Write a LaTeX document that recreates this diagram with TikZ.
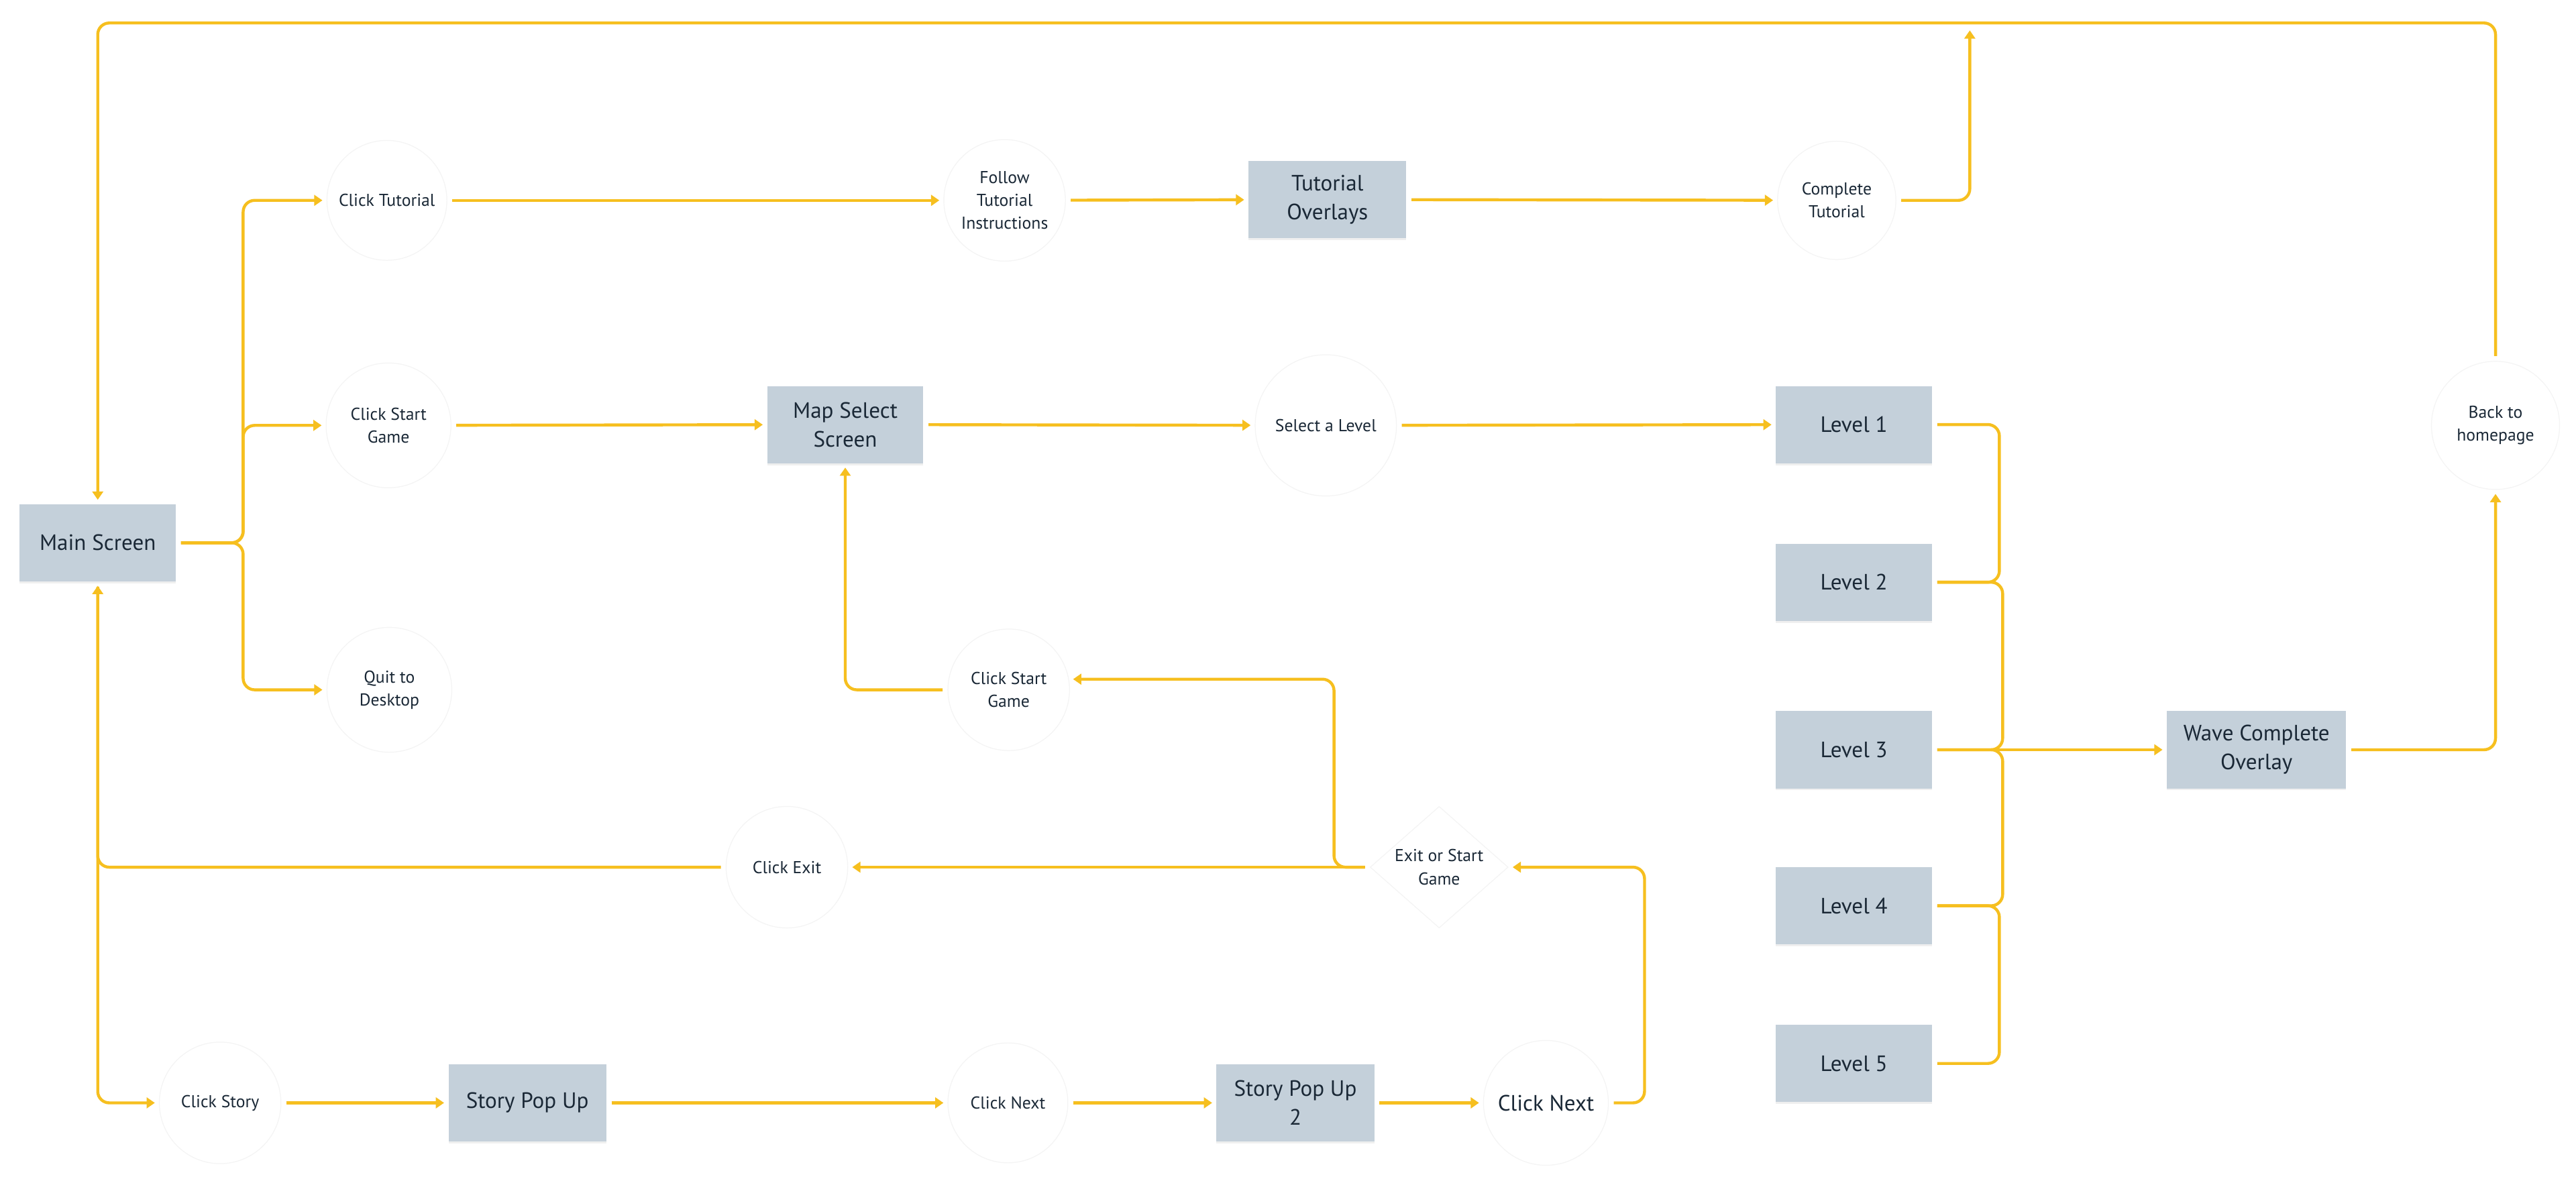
\documentclass[tikz,border=0pt]{standalone}
\usepackage{fontspec}
\setmainfont{PT Sans}
\usetikzlibrary{arrows.meta,shapes.geometric,shadows}
\definecolor{yel}{HTML}{F6BF1F}
\definecolor{boxc}{HTML}{C4D0DA}
\definecolor{txt}{HTML}{1A2836}
\definecolor{ring}{HTML}{F4F4F4}
\begin{document}
\begin{tikzpicture}[x=1pt,y=-1pt,
  box/.style={rectangle, fill=boxc, minimum width=95pt, minimum height=47pt, inner sep=2pt,
    align=center, text=txt, font=\fontsize{13.5}{17.5}\selectfont,
    drop shadow={shadow xshift=0pt, shadow yshift=-1.2pt, opacity=0.12}},
  act/.style={circle, fill=white, draw=ring, line width=0.5pt, minimum size=#1, inner sep=0pt,
    align=center, text=txt, font=\fontsize{10.5}{14}\selectfont},
  act/.default=74pt,
  decide/.style={diamond, fill=white, draw=ring, line width=0.5pt, minimum width=84pt,
    minimum height=74pt, inner sep=-8pt, align=center, text=txt, font=\fontsize{10.5}{14}\selectfont},
  conn/.style={draw=yel, line width=1.8pt, rounded corners=7pt, shorten <=3pt, shorten >=3pt},
  arr/.style={conn, -{Triangle[length=5pt,width=6.5pt]}, shorten >=2.5pt}
]
\fill[white] (0,0) rectangle (1568,718.7);
\useasboundingbox (0,0) rectangle (1568,718.7);

% boxes
\node[box] (main) at (59.5,330.5) {Main Screen};
\node[box, minimum width=96pt] (tov) at (808,121.5) {Tutorial\\Overlays};
\node[box] (map) at (514.5,258.5) {Map Select\\Screen};
\node[box] (L1) at (1128.5,258.5) {Level 1};
\node[box] (L2) at (1128.5,354.5) {Level 2};
\node[box] (L3) at (1128.5,456.5) {Level 3};
\node[box] (L4) at (1128.5,551.5) {Level 4};
\node[box] (L5) at (1128.5,647.5) {Level 5};
\node[box, minimum width=109pt] (wave) at (1373.5,456.5) {Wave Complete\\Overlay};
\node[box, minimum width=96pt] (sp1) at (321,671.5) {Story Pop Up};
\node[box, minimum width=96pt] (sp2) at (788.5,671.5) {Story Pop Up\\2};

% action circles
\node[act=73pt] (ctut) at (235.5,122) {Click Tutorial};
\node[act] (follow) at (611.5,122) {Follow\\Tutorial\\Instructions};
\node[act=72pt] (ctc) at (1118,122) {Complete\\Tutorial};
\node[act=76pt] (cst1) at (236.5,259) {Click Start\\Game};
\node[act=86pt] (sel) at (807,259) {Select a Level};
\node[act=78pt] (back) at (1519,259) {Back to\\homepage};
\node[act=76pt] (quit) at (237,420) {Quit to\\Desktop};
\node[act] (cst2) at (614,420) {Click Start\\Game};
\node[act] (cexit) at (479,528) {Click Exit};
\node[decide] (exd) at (876,528) {Exit or Start\\Game};
\node[act] (cstory) at (134,671.5) {Click Story};
\node[act=73pt] (cn1) at (613.5,671.5) {Click Next};
\node[act=76pt, font=\fontsize{13.5}{17.5}\selectfont] (cn2) at (941,671.5) {Click Next};

\coordinate (tj) at (1199,16);
\coordinate (topl) at (59.5,14);

% main screen branches
\draw[arr] (main.east) -- (148,330.5) |- (ctut.west);
\draw[arr] (main.east) -- (148,330.5) |- (cst1.west);
\draw[arr] (main.east) -- (148,330.5) |- (quit.west);

% tutorial row
\draw[arr] (ctut) -- (follow);
\draw[arr] (follow) -- (tov);
\draw[arr] (tov) -- (ctc);
\draw[arr] (ctc.east) -| (tj);

% back to main
\draw[arr] (back.north) |- (topl) -- (main.north);

% map row
\draw[arr] (cst1) -- (map);
\draw[arr] (map) -- (sel);
\draw[arr] (sel) -- (L1);

% levels
\draw[conn] (L1.east) -- (1217,258.5) |- (L2.east);
\draw[conn] (L2.east) -- (1219,354.5) |- (L3.east);
\draw[conn] (L3.east) -- (1219,456.5) |- (L4.east);
\draw[conn] (L4.east) -- (1217,551.5) |- (L5.east);
\draw[arr] (L3) -- (wave);
\draw[arr] (wave.east) -| (back.south);

% middle loop
\draw[arr] (cst2.west) -| (map.south);
\draw[arr] (exd.west) -- (812,528) |- (cst2.10);
\draw[arr] (exd) -- (cexit);
\draw[arr] (cexit.west) -| (main.south);
\draw[arr] (main.south) |- (cstory.west);

% story row
\draw[arr] (cstory) -- (sp1);
\draw[arr] (sp1) -- (cn1);
\draw[arr] (cn1) -- (sp2);
\draw[arr] (sp2) -- (cn2);
\draw[arr] (cn2.east) -- (1001,671.5) |- (exd.east);
\end{tikzpicture}
\end{document}
